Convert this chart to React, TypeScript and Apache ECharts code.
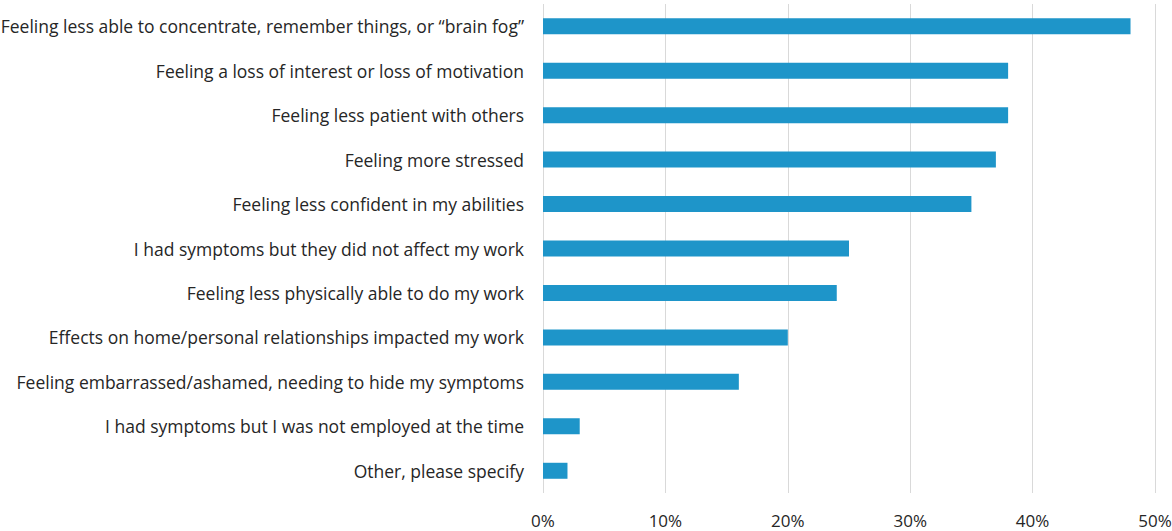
import React, { useEffect, useRef } from "react";
import * as echarts from "echarts";

const categories = [
  "Feeling less able to concentrate, remember things, or “brain fog”",
  "Feeling a loss of interest or loss of motivation",
  "Feeling less patient with others",
  "Feeling more stressed",
  "Feeling less confident in my abilities",
  "I had symptoms but they did not affect my work",
  "Feeling less physically able to do my work",
  "Effects on home/personal relationships impacted my work",
  "Feeling embarrassed/ashamed, needing to hide my symptoms",
  "I had symptoms but I was not employed at the time",
  "Other, please specify",
];

const values = [48, 38, 38, 37, 35, 25, 24, 20, 16, 3, 2];

const FONT = "Open Sans";

export default function App() {
  const ref = useRef<HTMLDivElement>(null);
  useEffect(() => {
    if (!ref.current) return;
    const chart = echarts.init(ref.current, undefined, { renderer: "svg" });
    chart.setOption({
      animation: false,
      grid: {
        left: 543,
        right: 17,
        top: 4,
        bottom: 38,
        containLabel: false,
        outerBoundsMode: "none",
      },
      xAxis: {
        type: "value",
        min: 0,
        max: 50,
        interval: 10,
        axisLine: { show: false },
        axisTick: { show: false },
        splitLine: { show: true, lineStyle: { color: "#D9D9D9", width: 1 } },
        axisLabel: {
          formatter: "{value}%",
          color: "#262626",
          fontFamily: FONT,
          fontSize: 17,
          margin: 19,
          hideOverlap: false,
        },
      },
      yAxis: {
        type: "category",
        data: categories,
        inverse: true,
        axisLine: { show: false },
        axisTick: { show: false },
        axisLabel: {
          color: "#262626",
          fontFamily: FONT,
          fontSize: 17.5,
          margin: 19,
        },
      },
      series: [
        {
          type: "bar",
          data: values,
          barWidth: 16,
          itemStyle: { color: "#1E95C9" },
        },
      ],
    });
    return () => chart.dispose();
  }, []);
  return <div ref={ref} style={{ width: 1172, height: 531, position: "absolute", left: 0, top: 0 }} />;
}
